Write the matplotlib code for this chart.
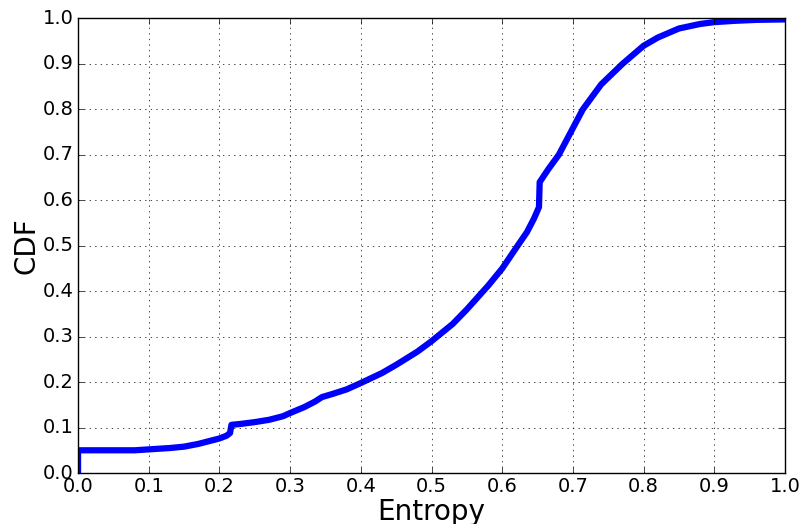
import matplotlib
matplotlib.use('Agg')
import matplotlib.pyplot as plt

# CDF of entropy
entropy = [0.0, 0.0, 0.03, 0.08, 0.10, 0.13, 0.15, 0.17, 0.19, 0.20, 0.21, 0.215,
           0.217, 0.23, 0.25, 0.27, 0.29, 0.30, 0.32, 0.335, 0.345, 0.36, 0.38,
           0.40, 0.43, 0.45, 0.48, 0.50, 0.53, 0.55, 0.58, 0.60, 0.62, 0.635,
           0.645, 0.652, 0.653, 0.665, 0.68, 0.697, 0.714, 0.74, 0.77, 0.80, 0.82,
           0.85, 0.88, 0.90, 0.93, 0.96, 1.0]
cdf = [0.0, 0.05, 0.05, 0.05, 0.052, 0.055, 0.058, 0.064, 0.072, 0.076, 0.082, 0.088,
       0.106, 0.108, 0.112, 0.117, 0.125, 0.132, 0.145, 0.157, 0.167, 0.174, 0.184,
       0.198, 0.22, 0.238, 0.267, 0.29, 0.328, 0.36, 0.412, 0.45, 0.496, 0.53,
       0.56, 0.585, 0.64, 0.668, 0.70, 0.75, 0.80, 0.855, 0.90, 0.94, 0.958,
       0.978, 0.988, 0.992, 0.995, 0.997, 0.998]

plt.style.use('classic')
fig = plt.figure(figsize=(8.02, 5.24), dpi=100)
ax = fig.add_axes([0.0973, 0.0973, 0.8815, 0.8674])

ax.plot(entropy, cdf, color='blue', linewidth=4.5)
ax.set_xlim(0, 1)
ax.set_ylim(0, 1)
ax.set_xticks([i / 10 for i in range(11)])
ax.set_yticks([i / 10 for i in range(11)])
ax.grid(True)
ax.tick_params(labelsize=14, pad=3)
ax.set_xlabel('Entropy', fontsize=20, labelpad=1)
ax.set_ylabel('CDF', fontsize=20, labelpad=2)

fig.savefig('out.png', dpi=100)
